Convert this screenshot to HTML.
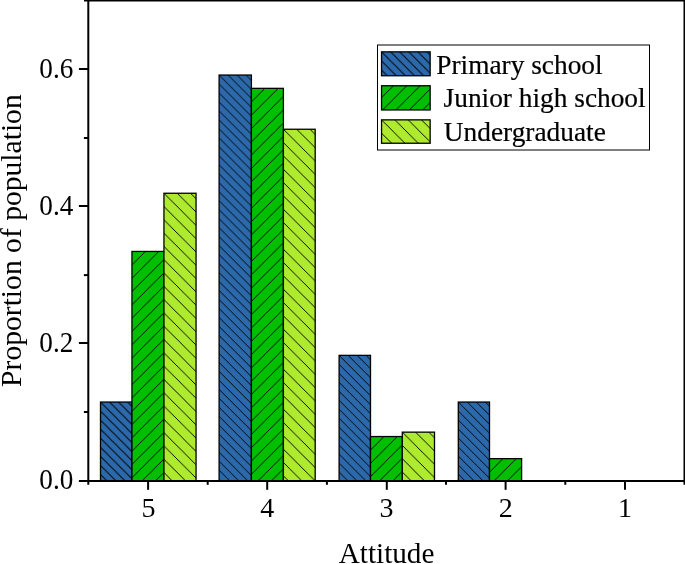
<!DOCTYPE html>
<html><head><meta charset="utf-8">
<style>
html,body{margin:0;padding:0;background:#fff;overflow:hidden;}
svg{display:block;}
text{font-family:"Liberation Serif",serif;fill:#000;}
.lg text{stroke:#000;stroke-width:0.2px;}
svg{will-change:transform;}
</style></head>
<body>
<svg width="685" height="564" viewBox="0 0 685 564">
<defs>
<pattern id="p1" patternUnits="userSpaceOnUse" x="101.15" y="402.70" width="9.05" height="9.05"><rect x="-1" y="-1" width="11.05" height="11.05" fill="#2b69aa"/><path d="M-1.5,-1.5 L10.55,10.55 M-1.5,7.550000000000001 L1.5,10.55 M7.550000000000001,-1.5 L10.55,1.5" stroke="#000" stroke-width="0.95"/></pattern>
<pattern id="p2" patternUnits="userSpaceOnUse" x="131.50" y="252.10" width="13.3" height="13.3"><rect x="-1" y="-1" width="15.3" height="15.3" fill="#00bf00"/><path d="M-1.5,14.8 L14.8,-1.5 M-1.5,1.5 L1.5,-1.5 M11.8,14.8 L14.8,11.8" stroke="#000" stroke-width="0.95"/></pattern>
<pattern id="p3" patternUnits="userSpaceOnUse" x="164.60" y="193.90" width="13.3" height="13.3"><rect x="-1" y="-1" width="15.3" height="15.3" fill="#aeea2e"/><path d="M-1.5,-1.5 L14.8,14.8 M-1.5,11.8 L1.5,14.8 M11.8,-1.5 L14.8,1.5" stroke="#000" stroke-width="0.95"/></pattern>
<pattern id="p4" patternUnits="userSpaceOnUse" x="219.75" y="75.70" width="8.98" height="8.98"><rect x="-1" y="-1" width="10.98" height="10.98" fill="#2b69aa"/><path d="M-1.5,-1.5 L10.48,10.48 M-1.5,7.48 L1.5,10.48 M7.48,-1.5 L10.48,1.5" stroke="#000" stroke-width="0.95"/></pattern>
<pattern id="p5" patternUnits="userSpaceOnUse" x="250.95" y="89.00" width="13.3" height="13.3"><rect x="-1" y="-1" width="15.3" height="15.3" fill="#00bf00"/><path d="M-1.5,14.8 L14.8,-1.5 M-1.5,1.5 L1.5,-1.5 M11.8,14.8 L14.8,11.8" stroke="#000" stroke-width="0.95"/></pattern>
<pattern id="p6" patternUnits="userSpaceOnUse" x="284.05" y="129.90" width="13.33" height="13.33"><rect x="-1" y="-1" width="15.33" height="15.33" fill="#aeea2e"/><path d="M-1.5,-1.5 L14.83,14.83 M-1.5,11.83 L1.5,14.83 M11.83,-1.5 L14.83,1.5" stroke="#000" stroke-width="0.95"/></pattern>
<pattern id="p7" patternUnits="userSpaceOnUse" x="339.75" y="356.00" width="8.98" height="8.98"><rect x="-1" y="-1" width="10.98" height="10.98" fill="#2b69aa"/><path d="M-1.5,-1.5 L10.48,10.48 M-1.5,7.48 L1.5,10.48 M7.48,-1.5 L10.48,1.5" stroke="#000" stroke-width="0.95"/></pattern>
<pattern id="p8" patternUnits="userSpaceOnUse" x="370.05" y="437.20" width="13.3" height="13.3"><rect x="-1" y="-1" width="15.3" height="15.3" fill="#00bf00"/><path d="M-1.5,14.8 L14.8,-1.5 M-1.5,1.5 L1.5,-1.5 M11.8,14.8 L14.8,11.8" stroke="#000" stroke-width="0.95"/></pattern>
<pattern id="p9" patternUnits="userSpaceOnUse" x="402.95" y="432.80" width="13.3" height="13.3"><rect x="-1" y="-1" width="15.3" height="15.3" fill="#aeea2e"/><path d="M-1.5,-1.5 L14.8,14.8 M-1.5,11.8 L1.5,14.8 M11.8,-1.5 L14.8,1.5" stroke="#000" stroke-width="0.95"/></pattern>
<pattern id="p10" patternUnits="userSpaceOnUse" x="458.95" y="402.70" width="9.0" height="9.0"><rect x="-1" y="-1" width="11.0" height="11.0" fill="#2b69aa"/><path d="M-1.5,-1.5 L10.5,10.5 M-1.5,7.5 L1.5,10.5 M7.5,-1.5 L10.5,1.5" stroke="#000" stroke-width="0.95"/></pattern>
<pattern id="p11" patternUnits="userSpaceOnUse" x="489.05" y="459.30" width="13.3" height="13.3"><rect x="-1" y="-1" width="15.3" height="15.3" fill="#00bf00"/><path d="M-1.5,14.8 L14.8,-1.5 M-1.5,1.5 L1.5,-1.5 M11.8,14.8 L14.8,11.8" stroke="#000" stroke-width="0.95"/></pattern>
<pattern id="p12" patternUnits="userSpaceOnUse" x="382.20" y="52.50" width="9.1" height="9.1"><rect x="-1" y="-1" width="11.1" height="11.1" fill="#2b69aa"/><path d="M-1.5,-1.5 L10.6,10.6 M-1.5,7.6 L1.5,10.6 M7.6,-1.5 L10.6,1.5" stroke="#000" stroke-width="0.95"/></pattern>
<pattern id="p13" patternUnits="userSpaceOnUse" x="379.45" y="86.40" width="13.35" height="13.35"><rect x="-1" y="-1" width="15.35" height="15.35" fill="#00bf00"/><path d="M-1.5,14.85 L14.85,-1.5 M-1.5,1.5 L1.5,-1.5 M11.85,14.85 L14.85,11.85" stroke="#000" stroke-width="0.95"/></pattern>
<pattern id="p14" patternUnits="userSpaceOnUse" x="382.20" y="120.50" width="13.3" height="13.3"><rect x="-1" y="-1" width="15.3" height="15.3" fill="#aeea2e"/><path d="M-1.5,-1.5 L14.8,14.8 M-1.5,11.8 L1.5,14.8 M11.8,-1.5 L14.8,1.5" stroke="#000" stroke-width="0.95"/></pattern>
</defs>
<g stroke="#000" stroke-width="1.3">
<rect x="100.50" y="402.05" width="31.45" height="78.85" fill="url(#p1)"/>
<rect x="131.95" y="251.45" width="32.00" height="229.45" fill="url(#p2)"/>
<rect x="163.95" y="193.25" width="32.10" height="287.65" fill="url(#p3)"/>
<rect x="219.10" y="75.05" width="32.30" height="405.85" fill="url(#p4)"/>
<rect x="251.40" y="88.35" width="32.00" height="392.55" fill="url(#p5)"/>
<rect x="283.40" y="129.25" width="31.80" height="351.65" fill="url(#p6)"/>
<rect x="339.10" y="355.35" width="31.40" height="125.55" fill="url(#p7)"/>
<rect x="370.50" y="436.55" width="31.80" height="44.35" fill="url(#p8)"/>
<rect x="402.30" y="432.15" width="32.20" height="48.75" fill="url(#p9)"/>
<rect x="458.30" y="402.05" width="31.20" height="78.85" fill="url(#p10)"/>
<rect x="489.50" y="458.65" width="32.10" height="22.25" fill="url(#p11)"/>
</g>
<g stroke="#000" stroke-width="2" fill="none">
<line x1="84" y1="0.4" x2="685" y2="0.4"/>
<line x1="88.3" y1="-1" x2="88.3" y2="484.8"/>
<line x1="78.9" y1="480.9" x2="685" y2="480.9"/>
<line x1="684.5" y1="-1" x2="684.5" y2="484.8"/>
<line x1="78.9" y1="343" x2="88" y2="343"/>
<line x1="78.9" y1="206" x2="88" y2="206"/>
<line x1="78.9" y1="69" x2="88" y2="69"/>
<line x1="83.9" y1="412" x2="88" y2="412"/>
<line x1="83.9" y1="275.1" x2="88" y2="275.1"/>
<line x1="83.9" y1="138" x2="88" y2="138"/>
<line x1="148.1" y1="481" x2="148.1" y2="489.8"/>
<line x1="267.2" y1="481" x2="267.2" y2="489.8"/>
<line x1="386.8" y1="481" x2="386.8" y2="489.8"/>
<line x1="505.6" y1="481" x2="505.6" y2="489.8"/>
<line x1="625" y1="481" x2="625" y2="489.8"/>
<line x1="207.7" y1="481" x2="207.7" y2="484.8"/>
<line x1="326.9" y1="481" x2="326.9" y2="484.8"/>
<line x1="446.0" y1="481" x2="446.0" y2="484.8"/>
<line x1="565.3" y1="481" x2="565.3" y2="484.8"/>
</g>
<g font-size="28" text-anchor="end">
<text transform="translate(73.3,488.8) scale(0.97,1.04)">0.0</text>
<text transform="translate(73.3,351.8) scale(0.97,1.04)">0.2</text>
<text transform="translate(73.3,214.8) scale(0.97,1.04)">0.4</text>
<text transform="translate(73.3,78.0) scale(0.97,1.04)">0.6</text>
</g>
<g font-size="28" text-anchor="middle">
<text x="148.4" y="517.4">5</text>
<text x="267.3" y="517.4">4</text>
<text x="386.6" y="517.4">3</text>
<text x="505.8" y="517.4">2</text>
<text x="625" y="517.4">1</text>
</g>
<text x="386.6" y="562.6" font-size="29.2" text-anchor="middle">Attitude</text>
<text transform="translate(21.3,240.6) rotate(-90)" font-size="29.6" text-anchor="middle">Proportion of population</text>
<rect x="377.5" y="45" width="272" height="105" fill="#fff" stroke="#000" stroke-width="1"/>
<g stroke="#000" stroke-width="1.3">
<rect x="381.55" y="51.85" width="48.60" height="23.90" fill="url(#p12)"/>
<rect x="381.55" y="85.75" width="48.60" height="24.20" fill="url(#p13)"/>
<rect x="381.55" y="119.85" width="48.60" height="23.40" fill="url(#p14)"/>
</g>
<g class="lg" font-size="27.35">
<text x="436.3" y="73.7">Primary school</text>
<text x="443.6" y="107.0">Junior high school</text>
<text x="443.8" y="140.7">Undergraduate</text>
</g>
</svg>
</body></html>
